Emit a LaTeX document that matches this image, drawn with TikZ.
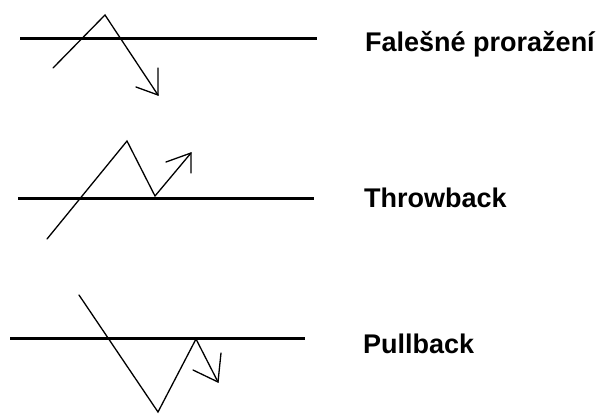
\documentclass[tikz,border=0pt]{standalone}
\usepackage{fontspec}
\setmainfont{Liberation Sans}
\usepackage{tikz}
\usetikzlibrary{calc}

\tikzset{
  level/.style={line width=3pt},
  price/.style={line width=1.3pt,line cap=round,line join=miter},
  label/.style={anchor=base west,inner sep=0pt,font=\fontsize{27}{30}\selectfont\bfseries}
}

\begin{document}
\begin{tikzpicture}[x=1pt,y=-1pt]
  \useasboundingbox (0,0) rectangle (598,413);
  % false breakout
  \draw[level] (20,38)--(317,38);
  \coordinate (f0) at (53,68);
  \coordinate (f1) at (105,15);
  \coordinate (f2) at (158,95);
  \draw[price] (f0)--(f1)--(f2);
  \draw[price] (158,68)--(f2)--(136,87);
  \node[label] (fal) at (365,51) {Falešné proražení};
  % throwback
  \draw[level] (18,198)--(314,198);
  \coordinate (t0) at (47,239);
  \coordinate (t1) at (127,141);
  \coordinate (t2) at (155,196);
  \coordinate (t3) at (191,153);
  \draw[price] (t0)--(t1)--(t2)--(t3);
  \draw[price] (166,162)--(t3)--(191,173);
  \node[label] (thr) at (364,207) {Throwback};
  % pullback
  \draw[level] (10,338)--(305,338);
  \coordinate (p0) at (79,295);
  \coordinate (p1) at (158,412);
  \coordinate (p2) at (196,339);
  \coordinate (p3) at (218,382);
  \draw[price] (p0)--(p1)--(p2)--(p3);
  \draw[price] (221,353)--(p3)--(193,370);
  \node[label] (pul) at (363,353) {Pullback};
\end{tikzpicture}
\end{document}
